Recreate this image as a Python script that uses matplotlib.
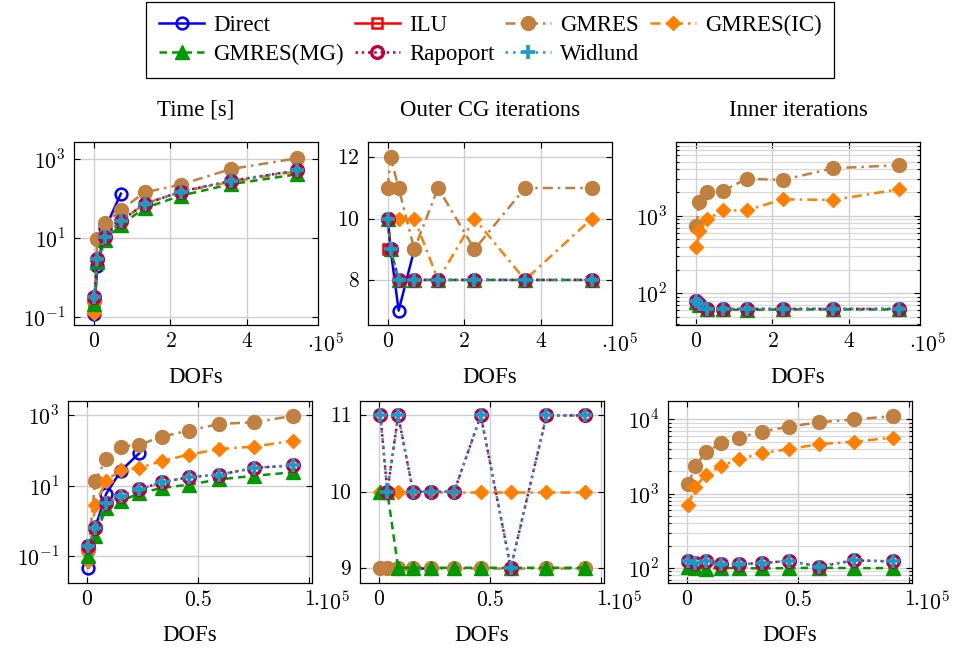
import numpy as np
import matplotlib.pyplot as plt
from matplotlib.ticker import FixedLocator, FuncFormatter, NullLocator, LogLocator

plt.rcParams['font.family'] = ['Liberation Serif', 'DejaVu Serif']
plt.rcParams['mathtext.fontset'] = 'cm'

# DOFs, in units of 1e5
dofs_top = [0.005, 0.08, 0.29, 0.70, 1.32, 2.27, 3.59, 5.33]
dofs_bot = [0.006, 0.037, 0.086, 0.153, 0.236, 0.338, 0.458, 0.593, 0.754, 0.927]

methods = ['Direct', 'ILU', 'GMRES', 'GMRES(IC)', 'GMRES(MG)', 'Rapoport', 'Widlund']

# top row
time_top = {
    'Direct': [0.12, 2.0, 18, 135],
    'ILU': [0.14],
    'GMRES': [0.25, 9.6, 24, 52, 145, 230, 570, 1070],
    'GMRES(IC)': [0.13, 3.0, 11, 27, 75, 150, 270, 500],
    'GMRES(MG)': [0.22, 2.5, 9, 22, 58, 120, 235, 420],
    'Rapoport': [0.33, 2.9, 11, 28, 73, 153, 285, 525],
    'Widlund': [0.33, 2.9, 11, 28, 73, 153, 285, 525],
}
outer_top = {
    'Direct': [10, 9, 7, 9],
    'ILU': [9],
    'GMRES': [11, 12, 11, 9, 11, 9, 11, 11],
    'GMRES(IC)': [10, 10, 10, 10, 8, 10, 8, 10],
    'GMRES(MG)': [10, 9, 8, 8, 8, 8, 8, 8],
    'Rapoport': [10, 9, 8, 8, 8, 8, 8, 8],
    'Widlund': [10, 9, 8, 8, 8, 8, 8, 8],
}
inner_top = {
    'GMRES': [740, 1500, 2000, 2100, 3000, 2900, 4100, 4500],
    'GMRES(IC)': [390, 640, 900, 1180, 1170, 1630, 1600, 2200],
    'GMRES(MG)': [78, 70, 62, 62, 61, 62, 62, 62],
    'Rapoport': [80, 72, 63, 63, 63, 63, 63, 63],
    'Widlund': [80, 72, 63, 63, 63, 63, 63, 63],
}

# bottom row
time_bot = {
    'Direct': [0.046, 0.66, 5.9, 27, 85],
    'GMRES': [0.15, 14, 58, 130, 146, 250, 370, 570, 640, 970],
    'GMRES(IC)': [0.07, 2.9, 14, 28, 32, 51, 76, 110, 130, 190],
    'GMRES(MG)': [0.1, 0.37, 2.3, 3.6, 6.2, 8.6, 10.7, 15, 19.2, 24],
    'Rapoport': [0.19, 0.63, 3.2, 5.2, 8.0, 12.4, 17.6, 20.5, 32, 38],
    'Widlund': [0.19, 0.63, 3.2, 5.2, 8.0, 12.4, 17.6, 20.5, 32, 38],
}
outer_bot = {
    'Direct': [9, 9, 9, 9, 9],
    'GMRES': [9, 9, 9, 9, 9, 9, 9, 9, 9, 9],
    'GMRES(IC)': [10, 10, 10, 10, 10, 10, 10, 10, 10, 10],
    'GMRES(MG)': [10, 10, 9, 9, 9, 9, 9, 9, 9, 9],
    'Rapoport': [11, 10, 11, 10, 10, 10, 11, 9, 11, 11],
    'Widlund': [11, 10, 11, 10, 10, 10, 11, 9, 11, 11],
}
inner_bot = {
    'GMRES': [1350, 2380, 3590, 4790, 5700, 6870, 8000, 9150, 10000, 11100],
    'GMRES(IC)': [710, 1250, 1800, 2380, 2920, 3520, 3980, 4640, 5030, 5700],
    'GMRES(MG)': [105, 100, 98, 100, 100, 99, 100, 101, 100, 100],
    'Rapoport': [123, 117, 123, 113, 113, 117, 125, 105, 127, 123],
    'Widlund': [123, 117, 123, 113, 113, 117, 125, 105, 127, 123],
}

styles = {
    'Direct': dict(color='#0000FF', marker='o', mfc='none', mec='#0000FF', ms=8.5, mew=1.8, ls='-'),
    'ILU': dict(color='#FF0000', marker='s', mfc='none', mec='#FF0000', ms=7.5, mew=1.8, ls='-'),
    'GMRES': dict(color='#BF8040', marker='o', mfc='#BF8040', mec='#BF8040', ms=10, dashes=(4, 2, 1, 2)),
    'GMRES(IC)': dict(color='#FF8000', marker='D', mfc='#FF8000', mec='#FF8000', ms=7.5, dashes=(4, 2, 1, 2)),
    'GMRES(MG)': dict(color='#009900', marker='^', mfc='#009900', mec='#009900', ms=10.5, dashes=(3, 2)),
    'Rapoport': dict(color='#BF0040', marker='o', mfc='none', mec='#BF0040', ms=8.5, mew=2.4, dashes=(1, 1.5)),
    'Widlund': dict(color='#1A99CC', marker='P', mfc='#1A99CC', mec='#1A99CC', ms=0, dashes=(1, 2)),
}

W, H = 957, 649
fig = plt.figure(figsize=(W / 100, H / 100), dpi=100)

def box(l, r, t, b):
    return [l / W, 1 - b / H, (r - l) / W, (b - t) / H]

fmt_lin = FuncFormatter(lambda v, p: r'$%g$' % v)
fmt_log = FuncFormatter(lambda v, p: r'$10^{%d}$' % round(np.log10(v)))

def panel(rect, x, data, ylim, xlim, yticks, xticks, log=False, minor=False, title=None, offx=0.96):
    ax = fig.add_axes(rect)
    for m in methods:
        if m not in data:
            continue
        y = data[m]
        st = dict(styles[m])
        if m == 'Widlund':
            ax.plot(x[:len(y)], y, lw=1.8, color=st['color'], dashes=st['dashes'], zorder=3)
            ax.plot(x[:len(y)], y, ls='none', marker='+', ms=9.5, mew=2.6, color=st['color'], zorder=4)
        else:
            ax.plot(x[:len(y)], y, lw=1.8, zorder=3, **st)
    if log:
        ax.set_yscale('log')
        ax.yaxis.set_major_formatter(fmt_log)
        if minor:
            ax.yaxis.set_minor_locator(LogLocator(base=10, subs=np.arange(2, 10)))
        else:
            ax.yaxis.set_minor_locator(NullLocator())
        ax.yaxis.set_minor_formatter(FuncFormatter(lambda v, p: ''))
    else:
        ax.yaxis.set_major_formatter(fmt_lin)
    ax.yaxis.set_major_locator(FixedLocator(yticks))
    ax.xaxis.set_major_locator(FixedLocator(xticks))
    ax.xaxis.set_major_formatter(fmt_lin)
    ax.set_xlim(*xlim)
    ax.set_ylim(*ylim)
    ax.grid(True, which='major', color='#CFCFCF', lw=1.0, zorder=0)
    if minor:
        ax.grid(True, which='minor', color='#D8D8D8', lw=0.9, zorder=0)
    ax.set_axisbelow(True)
    ax.tick_params(which='both', direction='in', top=True, right=True, labelsize=15.5, width=0.8)
    ax.tick_params(which='major', length=4, pad=6)
    ax.tick_params(which='minor', length=2)
    for s in ax.spines.values():
        s.set_linewidth(0.9)
    ax.set_xlabel('DOFs', fontsize=16.5)
    ax.xaxis.set_label_coords(0.5, -0.23)
    ax.annotate(r'$\cdot 10^{5}$', xy=(offx, 0), xycoords='axes fraction', xytext=(0, -6),
                textcoords='offset points', ha='left', va='top', fontsize=15.5)
    if title:
        ax.set_title(title, fontsize=16.5, pad=19)
    return ax

ax1 = panel(box(74, 318, 142, 325), dofs_top, time_top, (0.063, 2760), (-0.53, 5.87),
            [0.1, 10, 1000], [0, 2, 4], log=True, title='Time [s]', offx=0.955)
ax2 = panel(box(368, 612, 142, 325), dofs_top, outer_top, (6.53, 12.5), (-0.51, 5.86),
            [8, 10, 12], [0, 2, 4], title='Outer CG iterations', offx=0.955)
ax3 = panel(box(676, 920, 142, 325), dofs_top, inner_top, (39, 8950), (-0.53, 5.87),
            [100, 1000], [0, 2, 4], log=True, minor=True, title='Inner iterations', offx=0.955)
ax4 = panel(box(68, 312, 401, 583), dofs_bot, time_bot, (0.017, 2570), (-0.086, 1.013),
            [0.1, 10, 1000], [0, 0.5, 1], log=True, offx=1.005)
ax5 = panel(box(360, 604, 401, 583), dofs_bot, outer_bot, (8.80, 11.19), (-0.086, 1.013),
            [9, 10, 11], [0, 0.5, 1], offx=1.005)
ax6 = panel(box(668, 912, 401, 583), dofs_bot, inner_bot, (63, 17700), (-0.086, 1.013),
            [100, 1000, 10000], [0, 0.5, 1], log=True, minor=True, offx=1.005)

# legend, row-major order (matplotlib fills column by column)
handles = {}
for m in methods:
    st = dict(styles[m])
    if m == 'Widlund':
        h, = ax1.plot([], [], lw=1.8, color=st['color'], dashes=st['dashes'], marker='+', ms=9.5, mew=2.6)
    else:
        h, = ax1.plot([], [], lw=1.8, **st)
    handles[m] = h
order = ['Direct', 'GMRES(MG)', 'ILU', 'Rapoport', 'GMRES', 'Widlund', 'GMRES(IC)']
leg = fig.legend([handles[m] for m in order], order, ncol=4, loc='upper center',
                 bbox_to_anchor=(490 / W, 1 - 2 / H),
                 fontsize=16.5, frameon=True, fancybox=False, edgecolor='black', framealpha=1,
                 handlelength=2.0, handletextpad=0.4, columnspacing=0.45, labelspacing=0.35,
                 borderpad=0.55, borderaxespad=0)
leg.get_frame().set_linewidth(0.9)

fig.savefig('out.png', dpi=100)
